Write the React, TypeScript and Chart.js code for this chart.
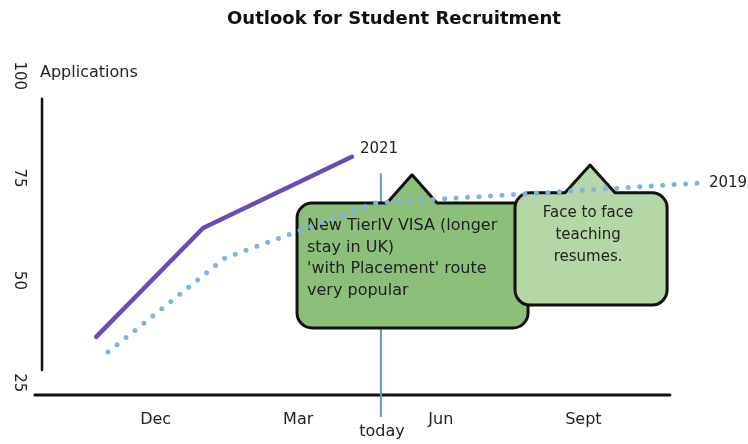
import { useEffect, useRef } from 'react';
import { Chart, registerables } from 'chart.js';

Chart.register(...registerables);

// ---- data ----
const tickMonths = [0, 3, 6, 9];
const tickLabels = ['Dec', 'Mar', 'Jun', 'Sept'];
const yTicks = [25, 50, 75, 100];

const months2021 = [-1.25, 1.0, 4.13];
const values2021 = [36.2, 62.8, 80.2];

const months2019 = [-1.0, 1.46, 4.62, 11.45];
const values2019 = [32.5, 55.5, 68.9, 73.8];

const todayMonth = 4.74;

const note1Lines = ["New TierIV VISA (longer", "stay in UK)", "'with Placement' route", "very popular"];
const note2Lines = ['Face to face', 'teaching', 'resumes.'];

// annotation geometry in data units (months / applications)
const notes = [
  { x0: 2.975, x1: 7.835, yTop: 68.9, yBottom: 38.4, baseL: 4.868, peakX: 5.394, peakY: 75.8, baseR: 5.92, fill: '#8cc07a', lines: note1Lines, align: 'left', size: 16 },
  { x0: 7.561, x1: 10.76, yTop: 71.4, yBottom: 44.0, baseL: 8.613, peakX: 9.14, peakY: 78.2, baseR: 9.665, fill: '#b5d6a6', lines: note2Lines, align: 'center', size: 15 },
];

const FONT = "'DejaVu Sans', 'Noto Sans', sans-serif";

function drawNote(ctx: CanvasRenderingContext2D, l: number, t: number, r: number, b: number, rad: number, bl: number, px: number, py: number, br: number) {
  ctx.beginPath();
  ctx.moveTo(l + rad, t);
  ctx.lineTo(bl, t);
  ctx.lineTo(px, py);
  ctx.lineTo(br, t);
  ctx.lineTo(r - rad, t);
  ctx.arcTo(r, t, r, t + rad, rad);
  ctx.lineTo(r, b - rad);
  ctx.arcTo(r, b, r - rad, b, rad);
  ctx.lineTo(l + rad, b);
  ctx.arcTo(l, b, l, b - rad, rad);
  ctx.lineTo(l, t + rad);
  ctx.arcTo(l, t, l + rad, t, rad);
  ctx.closePath();
  ctx.fill();
  ctx.stroke();
}

const decorPlugin = {
  id: 'decor',
  beforeDatasetsDraw(chart: any) {
    const { ctx, scales } = chart;
    const x = scales.x;
    const y = scales.y;
    ctx.save();
    // axis lines
    ctx.strokeStyle = '#111';
    ctx.lineCap = 'round';
    ctx.lineWidth = 2.5;
    ctx.beginPath();
    ctx.moveTo(chart.chartArea.left, y.getPixelForValue(94.4));
    ctx.lineTo(chart.chartArea.left, y.getPixelForValue(28.1));
    ctx.stroke();
    ctx.lineWidth = 3;
    ctx.beginPath();
    ctx.moveTo(x.getPixelForValue(-2.54), chart.chartArea.bottom);
    ctx.lineTo(x.getPixelForValue(10.82), chart.chartArea.bottom);
    ctx.stroke();

    // today line
    const tx = x.getPixelForValue(todayMonth);
    ctx.strokeStyle = '#5fa3ab';
    ctx.lineWidth = 2;
    ctx.lineCap = 'butt';
    ctx.beginPath();
    ctx.moveTo(tx, y.getPixelForValue(76.2));
    ctx.lineTo(tx, y.getPixelForValue(16.6));
    ctx.stroke();
    ctx.fillStyle = '#222';
    ctx.font = `16px ${FONT}`;
    ctx.textAlign = 'center';
    ctx.textBaseline = 'middle';
    ctx.fillText('today', tx + 1, y.getPixelForValue(13.0));

    // notes
    for (const n of notes) {
      const l = x.getPixelForValue(n.x0);
      const r = x.getPixelForValue(n.x1);
      const t = y.getPixelForValue(n.yTop);
      const b = y.getPixelForValue(n.yBottom);
      ctx.fillStyle = n.fill;
      ctx.strokeStyle = '#111';
      ctx.lineWidth = 3;
      ctx.lineJoin = 'round';
      drawNote(ctx, l, t, r, b, 15, x.getPixelForValue(n.baseL), x.getPixelForValue(n.peakX), y.getPixelForValue(n.peakY), x.getPixelForValue(n.baseR));
      ctx.fillStyle = '#222';
      ctx.font = `${n.size}px ${FONT}`;
      ctx.textBaseline = 'middle';
      if (n.align === 'left') {
        ctx.textAlign = 'left';
        n.lines.forEach((s, i) => ctx.fillText(s, l + 10, t + 23 + i * 21.5));
      } else {
        ctx.textAlign = 'center';
        n.lines.forEach((s, i) => ctx.fillText(s, (l + r) / 2 - 3, t + 20 + i * 22));
      }
    }
    ctx.restore();
  },
  afterDatasetsDraw(chart: any) {
    const { ctx, scales, chartArea } = chart;
    const x = scales.x;
    const y = scales.y;
    ctx.save();
    ctx.fillStyle = '#222';
    ctx.font = `16px ${FONT}`;
    ctx.textBaseline = 'middle';
    ctx.textAlign = 'left';
    ctx.fillText('Applications', chartArea.left - 2, chartArea.top - 3);
    ctx.font = `15px ${FONT}`;
    const l21 = months2021.length - 1;
    ctx.fillText('2021', x.getPixelForValue(months2021[l21]) + 8, y.getPixelForValue(values2021[l21]) - 8);
    const l19 = months2019.length - 1;
    ctx.fillText('2019', x.getPixelForValue(months2019[l19]) + 9, y.getPixelForValue(values2019[l19]));
    ctx.restore();
  },
};

export default function App() {
  const ref = useRef<HTMLCanvasElement | null>(null);
  useEffect(() => {
    if (!ref.current) return;
    const chart = new Chart(ref.current, {
      type: 'line',
      data: {
        datasets: [
          {
            label: '2021',
            data: months2021.map((m, i) => ({ x: m, y: values2021[i] })),
            borderColor: '#6a4cb4',
            borderWidth: 4.5,
            borderCapStyle: 'round',
            borderJoinStyle: 'round',
            pointRadius: 0,
            tension: 0,
            fill: false,
          },
          {
            label: '2019',
            data: months2019.map((m, i) => ({ x: m, y: values2019[i] })),
            borderColor: '#7db3e8',
            borderWidth: 5,
            borderDash: [0, 11.5],
            borderCapStyle: 'round',
            borderJoinStyle: 'round',
            pointRadius: 0,
            tension: 0,
            fill: false,
          },
        ],
      },
      options: {
        animation: false,
        responsive: false,
        layout: { padding: { left: 0, right: 2, top: 0, bottom: 0 } },
        plugins: {
          legend: { display: false },
          tooltip: { enabled: false },
          title: {
            display: true,
            fullSize: false,
            text: 'Outlook for Student Recruitment',
            color: '#111',
            font: { family: "'DejaVu Sans', Arial, sans-serif", size: 18, weight: 'bold' },
            padding: { top: 9, bottom: 45.2 },
          },
        },
        scales: {
          x: {
            type: 'linear',
            min: -2.39,
            max: 12.42,
            afterBuildTicks: (s: any) => { s.ticks = tickMonths.map((v) => ({ value: v })); },
            afterFit: (s: any) => { s.height = 49; },
            grid: { display: false, drawTicks: false },
            border: { display: false },
            ticks: {
              autoSkip: false,
              maxRotation: 0,
              padding: 15,
              color: '#222',
              font: { family: FONT, size: 16 },
              callback: (_v: any, i: number) => tickLabels[i],
            },
          },
          y: {
            type: 'linear',
            min: 22,
            max: 100,
            afterBuildTicks: (s: any) => { s.ticks = yTicks.map((v) => ({ value: v })); },
            afterFit: (s: any) => { s.width = 42; },
            grid: { display: false, drawTicks: false },
            border: { display: false },
            ticks: {
              minRotation: -90,
              maxRotation: -90,
              crossAlign: 'center',
              padding: 8.7,
              color: '#222',
              font: { family: FONT, size: 15 },
              callback: (v: any) => String(v),
            },
          },
        },
      },
      plugins: [decorPlugin],
    } as any);
    return () => chart.destroy();
  }, []);
  return (
    <div style={{ position: 'fixed', left: 0, top: 0, width: 748, height: 444, background: '#fff' }}>
      <canvas ref={ref} width={748} height={444} style={{ display: 'block' }} />
    </div>
  );
}
